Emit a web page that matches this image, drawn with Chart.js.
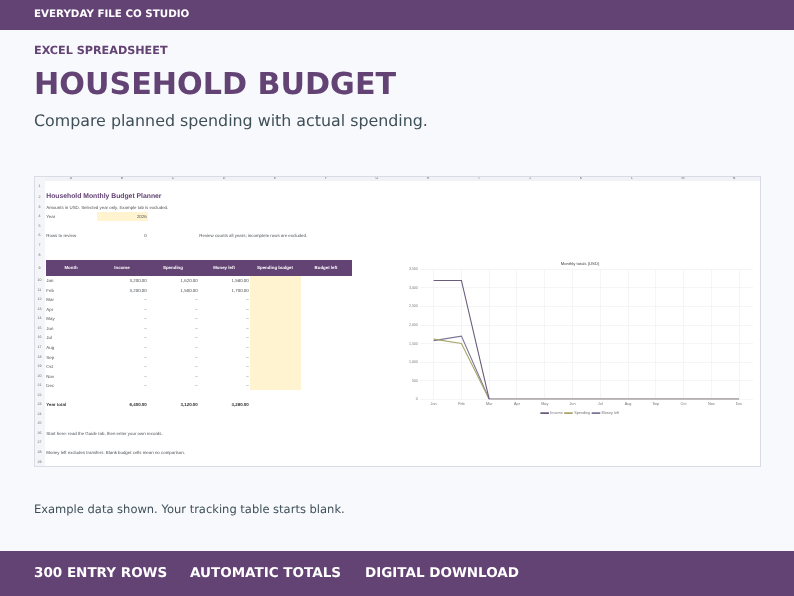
<!DOCTYPE html>
<html>
<head>
<meta charset="utf-8">
<script src="https://cdn.jsdelivr.net/npm/chart.js@4"></script>
<style>
  html, body { margin: 0; padding: 0; }
  body { width: 794px; height: 596px; position: relative; overflow: hidden; background: #f8f9fd; font-family: "DejaVu Sans", sans-serif; color: #3f4f58; text-rendering: geometricPrecision; }
  .abs { position: absolute; white-space: nowrap; filter: blur(0.2px); }
  .band { position: absolute; left: 0; width: 794px; background: #634274; color: #fff; font-weight: bold; }
  #sheet { position: absolute; left: 34px; top: 176px; width: 725px; height: 289px; background: #fff; border: 1px solid #d9dce6; font-family: "Liberation Sans", sans-serif; overflow: hidden; filter: blur(0.3px); }
  #sheet div { position: absolute; white-space: nowrap; }
  #chartBox { position: absolute; left: 403px; top: 259px; width: 357px; height: 160px; overflow: hidden; background: #fff; filter: blur(0.3px); }
</style>
</head>
<body>
<div class="band" style="top:0;height:30px"></div>
<div class="abs" style="left:34px;top:8px;color:#fff;font-weight:bold;font-size:10.3px">EVERYDAY FILE CO STUDIO</div>
<div class="abs" style="left:34px;top:44px;color:#634274;font-weight:bold;font-size:11.2px">EXCEL SPREADSHEET</div>
<div class="abs" style="left:34px;top:66.5px;color:#634274;font-weight:bold;font-size:30.2px">HOUSEHOLD BUDGET</div>
<div class="abs" style="left:34px;top:111px;font-size:15.85px">Compare planned spending with actual spending.</div>
<div id="sheet"></div>
<div id="chartBox"><canvas id="chart" width="357" height="170"></canvas></div>
<div class="abs" style="left:34px;top:502px;font-size:11.5px">Example data shown. Your tracking table starts blank.</div>
<div class="band" style="top:551px;height:45px"></div>
<div class="abs" style="left:34px;top:565px;color:#fff;font-weight:bold;font-size:13.5px">300 ENTRY ROWS</div>
<div class="abs" style="left:190px;top:565px;color:#fff;font-weight:bold;font-size:13.5px">AUTOMATIC TOTALS</div>
<div class="abs" style="left:365px;top:565px;color:#fff;font-weight:bold;font-size:13.5px">DIGITAL DOWNLOAD</div>

<script>
// Chart values
const months = ['Jan', 'Feb', 'Mar', 'Apr', 'May', 'Jun', 'Jul', 'Aug', 'Sep', 'Oct', 'Nov', 'Dec'];
const income = [3200, 3200, 0, 0, 0, 0, 0, 0, 0, 0, 0, 0];
const spending = [1620, 1500, 0, 0, 0, 0, 0, 0, 0, 0, 0, 0];
const moneyLeft = [1580, 1700, 0, 0, 0, 0, 0, 0, 0, 0, 0, 0];
const yTicks = [0, 500, 1000, 1500, 2000, 2500, 3000, 3500];

// Sheet text
const columnLetters = ['A', 'B', 'C', 'D', 'E', 'F', 'G', 'H', 'I', 'J', 'K', 'L', 'M', 'N'];
const tableHeaders = ['Month', 'Income', 'Spending', 'Money left', 'Spending budget', 'Budget left'];
const yearTotals = ['6,400.00', '3,120.00', '3,280.00'];

const sheet = document.getElementById('sheet');
const sx = 35, sy = 177;   // sheet's inner origin on the page
const colX = i => 45.5 + i * 51.0;
const rowTop = [180.3];
for (let r = 1; r <= 29; r++) {
  const h = r === 1 ? 10.2 : r === 2 ? 12.3 : r === 3 ? 9.05 : r === 9 ? 16 : 9.55;
  rowTop[r] = rowTop[r - 1] + h;
}
// rowTop[r] is the bottom of row r
const rowY = r => rowTop[r - 1];
const rowH = r => rowTop[r] - rowTop[r - 1];

function box(x, y, w, h, color) {
  const d = document.createElement('div');
  d.style.cssText = `left:${x - sx}px;top:${y - sy}px;width:${w}px;height:${h}px;background:${color}`;
  sheet.appendChild(d);
}
function cell(text, x, y, w, h, o = {}) {
  const d = document.createElement('div');
  d.textContent = text;
  d.style.cssText = `left:${x - sx}px;top:${y - sy + 0.5}px;width:${w}px;height:${h}px;line-height:${h}px;` +
    `text-align:${o.align || 'left'};font-size:${o.size || 4.4}px;color:${o.color || '#4a4f55'};font-weight:${o.bold ? 'bold' : 'normal'}`;
  sheet.appendChild(d);
}

// headers of the grid
box(34, 176, 726, 5, '#f1f2f5');
box(34, 176, 11, 290, '#f4f5f8');
columnLetters.forEach((c, i) => cell(c, colX(i), 175.2, 51, 5.5, { align: 'center', size: 3.6, color: '#666' }));
for (let r = 1; r <= 29; r++) cell(String(r), 34, rowY(r), 11, rowH(r), { align: 'center', size: 3.6, color: '#666' });

const t = (text, c, r, o = {}) => {
  const right = o.align === 'right';
  cell(text, colX(c) + (right ? 0 : 0.8), rowY(r), 51 - (right ? 0.8 : 0) + (o.over || 0), rowH(r), o);
};

t('Household Monthly Budget Planner', 0, 2, { bold: true, size: 6.8, color: '#634274', over: 150 });
t('Amounts in USD. Selected year only. Example tab is excluded.', 0, 3, { over: 200 });
box(colX(1), rowY(4), 51, rowH(4), '#fff4cf');
t('Year', 0, 4);
t('2026', 1, 4, { align: 'right' });
t('Rows to review', 0, 6);
t('0', 1, 6, { align: 'right' });
t('Review counts all years; incomplete rows are excluded.', 3, 6, { over: 200 });

box(colX(0), rowY(9), 306, rowH(9), '#634274');
tableHeaders.forEach((h, i) => cell(h, colX(i), rowY(9) - 0.5, 51, rowH(9), { align: 'center', bold: true, color: '#fff' }));
box(colX(4), rowY(10), 51, rowTop[21] - rowY(10), '#fff4cf');

months.forEach((m, i) => {
  const r = 10 + i;
  const fmt = v => v ? v.toLocaleString('en-US', { minimumFractionDigits: 2 }) : '–';
  t(m, 0, r);
  t(fmt(income[i]), 1, r, { align: 'right' });
  t(fmt(spending[i]), 2, r, { align: 'right' });
  t(fmt(moneyLeft[i]), 3, r, { align: 'right' });
});
t('Year total', 0, 23, { bold: true, color: '#333' });
yearTotals.forEach((v, i) => t(v, i + 1, 23, { align: 'right', bold: true, color: '#333' }));
t('Start here: read the Guide tab, then enter your own records.', 0, 26, { over: 200 });
t('Money left excludes transfers. Blank budget cells mean no comparison.', 0, 28, { over: 200 });

// The line chart sitting on the sheet
const tickFont = { size: 3.8, family: '"Liberation Sans", sans-serif' };
new Chart(document.getElementById('chart'), {
  type: 'line',
  data: {
    labels: months,
    datasets: [
      { label: 'Income', data: income, borderColor: '#6a5c7a' },
      { label: 'Spending', data: spending, borderColor: '#a9a56a' },
      { label: 'Money left', data: moneyLeft, borderColor: '#7a7496' }
    ]
  },
  options: {
    responsive: false,
    animation: false,
    elements: { point: { radius: 0 }, line: { borderWidth: 1.1, tension: 0 } },
    layout: { padding: { left: 4, right: 7, top: 0, bottom: 4 } },
    plugins: {
      title: { display: true, text: 'Monthly totals (USD)', color: '#444', font: { size: 4.2, weight: 'normal', family: tickFont.family }, padding: { top: 2, bottom: 3.3 } },
      legend: {
        position: 'bottom',
        labels: { boxWidth: 7.5, boxHeight: 0.7, font: tickFont, color: '#777', padding: 2 }
      },
      tooltip: { enabled: false }
    },
    scales: {
      x: {
        offset: true,
        grid: { color: '#e8eaee', lineWidth: 0.5, drawTicks: false },
        border: { display: false },
        ticks: { font: tickFont, color: '#777', padding: 2.7, maxRotation: 0 }
      },
      y: {
        min: 0, max: 3500,
        afterBuildTicks: axis => { axis.ticks = yTicks.map(v => ({ value: v })); },
        grid: { color: '#e8eaee', lineWidth: 0.5, drawTicks: false },
        border: { display: false },
        ticks: { font: { size: 3.5, family: tickFont.family }, color: '#777', padding: 2, callback: v => v.toLocaleString('en-US') }
      }
    }
  }
});
</script>
</body>
</html>
